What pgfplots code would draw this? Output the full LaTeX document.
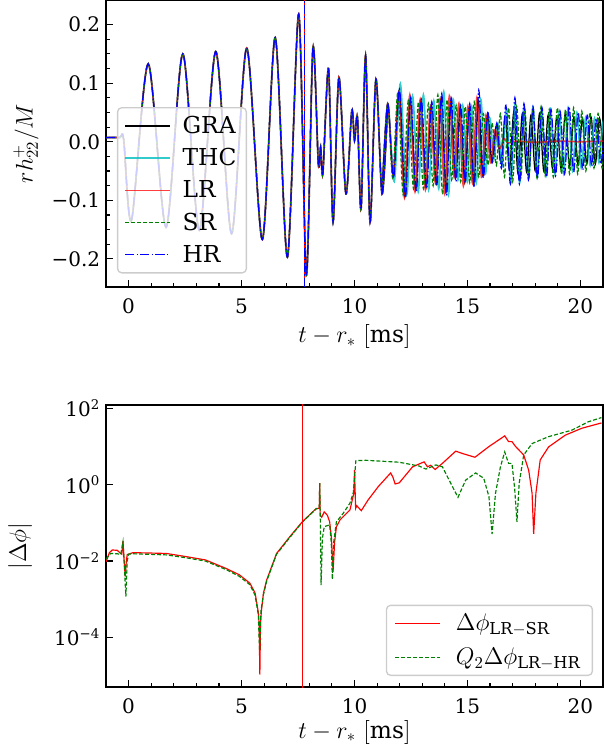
\documentclass[border=0pt]{standalone}
\usepackage{fontspec}
\setmainfont{DejaVu Serif}
\usepackage{pgfplots}
\usepackage{pgfplotstable}
\pgfplotsset{compat=1.18}

\definecolor{mcyan}{rgb}{0,0.75,0.75}
\definecolor{mgreen}{rgb}{0,0.5,0}

% part shared by all runs (inspiral + early post-merger)
\pgfplotstableread{
t y
-1.00 0.007
-0.40 0.007
-0.22 0.004
0.13 -0.134
0.87 0.133
1.66 -0.146
2.40 0.150
3.13 -0.151
3.86 0.154
4.56 -0.157
5.23 0.160
5.92 -0.167
6.49 0.178
7.03 -0.197
7.53 0.218
7.87 -0.228
8.16 0.161
8.40 -0.038
8.50 -0.009
8.60 -0.054
8.85 0.125
9.05 -0.137
9.31 0.110
9.62 -0.089
9.88 0.053
10.00 0.002
10.13 0.042
10.29 -0.115
10.49 0.147
10.69 -0.137
10.95 0.107
11.22 -0.089
11.47 0.065
}\common

\pgfplotstableread{
t y
11.22 -0.089
11.47 0.065
11.72 -0.060
11.98 0.088
12.23 -0.094
12.47 0.072
12.71 -0.082
12.94 0.070
13.17 -0.078
13.40 0.062
13.62 -0.072
13.84 0.075
14.05 -0.085
14.26 0.068
14.47 -0.062
14.68 0.060
14.88 -0.070
15.08 0.058
15.28 -0.072
15.48 0.070
15.68 -0.058
15.88 0.045
16.08 -0.035
16.28 0.028
16.48 -0.035
16.67 0.042
16.86 -0.048
17.05 0.050
17.24 -0.055
17.43 0.048
17.62 -0.052
17.81 0.045
18.00 -0.050
18.19 0.048
18.38 -0.050
18.57 0.045
18.76 -0.045
18.95 0.042
19.14 -0.045
19.33 0.048
19.52 -0.042
19.71 0.042
19.90 -0.040
20.09 0.040
20.28 -0.038
20.47 0.042
20.66 -0.038
20.85 0.040
21.04 -0.035
}\gra

\pgfplotstableread{
t y
11.22 -0.089
11.47 0.065
11.76 -0.068
12.03 0.099
12.31 -0.090
12.57 0.078
12.82 -0.085
13.05 0.080
13.28 -0.082
13.51 0.070
13.73 -0.080
13.95 0.085
14.16 -0.090
14.37 0.072
14.58 -0.065
14.79 0.062
14.99 -0.068
15.19 0.060
15.39 -0.070
15.59 0.072
15.79 -0.055
15.99 0.040
16.17 -0.030
16.35 0.030
16.53 -0.040
16.725 0.055
16.92 -0.068
17.115 0.065
17.31 -0.070
17.505 0.060
17.70 -0.062
17.895 0.058
18.09 -0.060
18.285 0.055
18.48 -0.058
18.675 0.055
18.87 -0.055
19.065 0.052
19.26 -0.055
19.455 0.058
19.65 -0.050
19.845 0.050
20.04 -0.045
20.235 0.042
20.43 -0.040
20.625 0.040
20.82 -0.035
21.015 0.035
21.21 -0.030
}\thc

\pgfplotstableread{
t y
11.22 -0.089
11.47 0.065
11.71 -0.058
11.96 0.085
12.21 -0.095
12.45 0.080
12.68 -0.085
12.91 0.072
13.14 -0.082
13.36 0.060
13.58 -0.070
13.78 0.072
13.99 -0.088
14.20 0.078
14.41 -0.060
14.62 0.065
14.82 -0.075
15.02 0.060
15.22 -0.070
15.42 0.075
15.62 -0.060
15.82 0.045
16.02 -0.035
16.22 0.020
16.42 -0.012
16.62 0.005
16.80 -0.002
17.20 0.001
18.00 -0.001
19.00 0.001
20.00 0.000
21.00 0.001
}\lr

\pgfplotstableread{
t y
11.22 -0.089
11.47 0.065
11.69 -0.062
11.92 0.085
12.15 -0.090
12.38 0.070
12.61 -0.080
12.83 0.068
13.05 -0.080
13.27 0.065
13.48 -0.075
13.69 0.080
13.90 -0.090
14.10 0.072
14.30 -0.065
14.50 0.062
14.70 -0.068
14.90 0.060
15.10 -0.070
15.30 0.068
15.50 -0.060
15.70 0.048
15.90 -0.040
16.09 0.032
16.28 -0.040
16.46 0.048
16.64 -0.060
16.82 0.058
17.00 -0.068
17.18 0.060
17.36 -0.062
17.54 0.055
17.72 -0.060
17.90 0.058
18.08 -0.062
18.26 0.060
18.44 -0.058
18.62 0.055
18.80 -0.060
18.98 0.058
19.16 -0.055
19.34 0.055
19.52 -0.055
19.70 0.058
19.88 -0.055
20.06 0.052
20.24 -0.050
20.42 0.050
20.60 -0.045
20.78 0.048
20.96 -0.045
21.14 0.042
}\sr

\pgfplotstableread{
t y
11.22 -0.089
11.47 0.065
11.73 -0.062
11.99 0.090
12.25 -0.095
12.49 0.075
12.73 -0.085
12.96 0.072
13.19 -0.080
13.42 0.068
13.64 -0.075
13.86 0.082
14.07 -0.092
14.28 0.075
14.49 -0.068
14.70 0.062
14.90 -0.070
15.10 0.065
15.30 -0.078
15.50 0.088
15.70 -0.062
15.90 0.050
16.10 -0.035
16.30 0.032
16.50 -0.045
16.70 0.062
16.90 -0.072
17.10 0.075
17.30 -0.072
17.50 0.065
17.70 -0.065
17.90 0.060
18.10 -0.062
18.30 0.058
18.50 -0.060
18.70 0.055
18.90 -0.058
19.10 0.052
19.30 -0.055
19.50 0.060
19.70 -0.052
19.90 0.050
20.10 -0.048
20.30 0.045
20.50 -0.042
20.70 0.040
20.90 -0.038
21.10 0.035
}\hr

\pgfplotsset{
  panel/.style={
    scale only axis, width=298.2pt,
    xmin=-1, xmax=21,
    xtick={0,5,10,15,20}, xticklabels={0,5,10,15,20},
    minor x tick num=4,
    tick align=inside, xtick pos=left, ytick pos=left,
    major tick length=4.2pt, minor tick length=2.4pt,
    every tick/.style={black, line width=0.7pt},
    axis line style={line width=0.8pt},
    tick label style={font=\fontsize{12}{14}\selectfont},
    xticklabel style={yshift=-3.5pt},
    label style={font=\fontsize{14}{16}\selectfont},
    legend image code/.code={\draw[##1] (0pt,0pt) -- (27pt,0pt);},
    legend cell align=left,
  },
  gra/.style={color=black, line width=0.75pt},
  thc/.style={color=mcyan, opacity=0.8, line width=1pt},
  lr/.style={color=red, opacity=0.75, line width=1pt},
  sr/.style={color=mgreen, line width=0.75pt, dash pattern=on 2.4pt off 1.2pt},
  hr/.style={color=blue, line width=0.75pt, dash pattern=on 5.5pt off 1.4pt on 0.8pt off 1.4pt},
}

\begin{document}
\begin{tikzpicture}

% ---- top: strain ----
\begin{axis}[panel, at={(63.6pt,279pt)}, anchor=south west,
    height=172.2pt, ymin=-0.248, ymax=0.242,
    ytick={-0.2,-0.1,0,0.1,0.2},
    yticklabels={−0.2,−0.1,0.0,0.1,0.2},
    minor y tick num=3,
    xlabel={$t-r_*\ [\mathrm{ms}]$},
    ylabel={$rh^+_{22}/M$},
    xlabel style={at={(axis description cs:0.5,0)}, anchor=center, yshift=-30pt},
    ylabel style={at={(axis description cs:0,0.5)}, anchor=center, rotate=0, yshift=48pt},
    legend entries={GRA,THC,LR,SR,HR},
    legend style={at={(0.022,0.627)}, anchor=north west,
        draw=black!20, line width=0.8pt, rounded corners=2.5pt,
        fill=white, fill opacity=0.8, text opacity=1,
        font=\fontsize{14}{16}\selectfont, row sep=3.5pt,
        inner xsep=4pt, inner ysep=3pt,
        /tikz/every odd column/.append style={column sep=5pt}},
]
\addplot[gra, smooth] table {\common};
\addplot[gra, smooth, forget plot] table {\gra};
\addplot[thc, smooth] table {\common};
\addplot[thc, smooth, forget plot] table {\thc};
\addplot[lr, smooth] table {\common};
\addplot[lr, smooth, forget plot] table {\lr};
\addplot[sr, smooth] table {\common};
\addplot[sr, smooth, forget plot] table {\sr};
\addplot[hr, smooth] table {\common};
\addplot[hr, smooth, forget plot] table {\hr};
% merger time
\addplot[red, line width=0.7pt, forget plot] coordinates {(7.78,-0.3) (7.78,0.3)};
\addplot[hr, line width=0.7pt, forget plot] coordinates {(7.78,-0.3) (7.78,0.3)};
\end{axis}

% ---- bottom: phase difference ----
\begin{axis}[panel, at={(63.6pt,39pt)}, anchor=south west,
    height=169.2pt, ymode=log, ymin=5e-6, ymax=123,
    ytick={1e-4,1e-2,1,1e2},
    yticklabels={10\textsuperscript{−4},10\textsuperscript{−2},10\textsuperscript{0},10\textsuperscript{2}},
    yminorticks=false,
    xlabel={$t-r_*\ [\mathrm{ms}]$},
    ylabel={$|\Delta\phi|$},
    xlabel style={at={(axis description cs:0.5,0)}, anchor=center, yshift=-27pt},
    ylabel style={at={(axis description cs:0,0.5)}, anchor=center, yshift=51.6pt},
    legend style={at={(0.98,0.039)}, anchor=south east,
        draw=black!20, line width=0.8pt, rounded corners=2.5pt,
        fill=white, fill opacity=0.8, text opacity=1,
        font=\fontsize{14}{16}\selectfont, row sep=5pt,
        inner xsep=5pt, inner ysep=3pt,
        /tikz/every odd column/.append style={column sep=7pt}},
]
\addplot[color=red, line width=0.7pt] coordinates {
(-1.00,0.0095) (-0.85,0.0166) (-0.72,0.0195) (-0.50,0.0191) (-0.35,0.0158)
(-0.30,0.0151) (-0.25,0.0339) (-0.20,0.0112) (-0.15,0.0039) (-0.10,0.0100)
(-0.06,0.0148) (0.20,0.0166) (1.00,0.0162) (1.67,0.0158) (2.50,0.0132)
(3.40,0.0107) (4.30,0.00646) (4.90,0.00437) (5.37,0.00263) (5.60,0.00145)
(5.75,0.000427) (5.78,0.0002) (5.81,1.05e-5) (5.84,0.00025) (5.88,0.0005)
(5.97,0.00145) (6.11,0.00316) (6.55,0.0158) (7.14,0.0437) (7.69,0.107)
(8.31,0.240) (8.44,0.240) (8.46,1.10) (8.48,0.158) (8.55,0.141)
(8.66,0.195) (8.80,0.158) (8.90,0.107) (8.98,0.0398) (9.05,0.00525)
(9.12,0.0316) (9.20,0.0794) (9.36,0.120) (9.80,0.219) (9.97,0.603)
(10.00,2.40) (10.05,0.240) (10.10,0.282) (10.30,0.209) (10.60,0.398)
(11.05,0.891) (11.60,2.04) (11.70,1.58) (11.80,1.05) (11.98,1.12)
(12.57,2.95) (13.08,3.98) (13.23,2.95) (13.37,3.24) (13.57,2.51)
(13.89,3.63) (14.48,7.59) (14.77,6.61) (15.33,5.25) (15.95,10.0)
(16.65,19.1) (16.82,13.5) (16.97,13.5) (17.12,10.2) (17.49,6.03)
(17.71,2.40) (17.86,0.603) (17.93,0.0513) (18.03,0.603) (18.22,4.47)
(18.59,9.77) (19.33,19.95) (20.06,30.2) (20.93,41.7)
};
\addlegendentry{$\Delta\phi_{\mathrm{LR}-\mathrm{SR}}$}
\addplot[color=mgreen, line width=0.7pt, dash pattern=on 2.4pt off 1.2pt] coordinates {
(-1.00,0.0112) (-0.80,0.0158) (-0.50,0.0155) (-0.35,0.0148) (-0.25,0.0316)
(-0.20,0.0100) (-0.12,0.00117) (-0.06,0.0100) (0.00,0.0151) (0.20,0.0155)
(1.67,0.0145) (2.50,0.0123) (3.40,0.0100) (4.30,0.00603) (4.90,0.00398)
(5.37,0.00240) (5.60,0.00126) (5.74,0.000398) (5.80,4.47e-5) (5.86,0.0005)
(5.97,0.00132) (6.11,0.00295) (6.55,0.0151) (7.14,0.0417) (7.69,0.105)
(8.31,0.234) (8.44,0.240) (8.46,1.10) (8.49,0.100) (8.52,0.00234)
(8.58,0.0398) (8.66,0.0794) (8.90,0.0891) (8.97,0.0316) (9.02,0.00331)
(9.08,0.0316) (9.20,0.107) (9.50,0.178) (9.80,0.331) (9.95,0.631)
(10.06,4.27) (10.50,4.37) (11.70,3.98) (11.98,3.89) (12.86,3.09)
(13.16,2.57) (13.60,3.31) (13.89,2.95) (14.19,1.32) (14.58,0.468)
(14.92,1.32) (15.36,2.04) (15.72,1.48) (15.95,0.490) (16.09,0.0513)
(16.24,0.589) (16.46,2.95) (16.65,7.24) (16.82,3.63) (16.97,3.63)
(17.09,0.794) (17.19,0.107) (17.29,1.10) (17.49,6.03) (17.86,12.0)
(18.59,18.2) (19.62,26.9) (20.35,44.7) (20.93,57.5)
};
\addlegendentry{$Q_2\Delta\phi_{\mathrm{LR}-\mathrm{HR}}$}
\addplot[color=red, line width=0.7pt, forget plot] coordinates {(7.70,1e-7) (7.70,1e3)};
\end{axis}

\pgfresetboundingbox
\path[use as bounding box] (0,0) rectangle (361.8pt,451.2pt);
\end{tikzpicture}
\end{document}
